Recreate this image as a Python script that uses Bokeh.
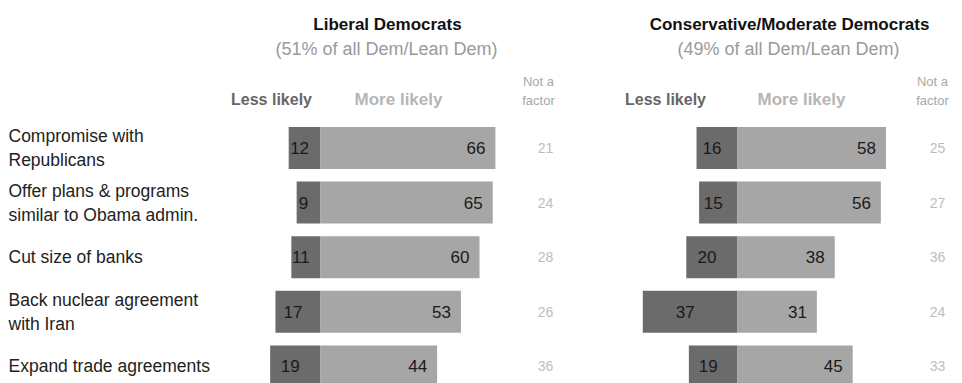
from bokeh.plotting import figure
from bokeh.models import Range1d, ColumnDataSource
from bokeh.embed import file_html
from bokeh.resources import INLINE
from bokeh.core.properties import value

# ---- data ----
items = [
    "Compromise with\nRepublicans",
    "Offer plans & programs\nsimilar to Obama admin.",
    "Cut size of banks",
    "Back nuclear agreement\nwith Iran",
    "Expand trade agreements",
]
lib_less = [12, 9, 11, 17, 19]
lib_more = [66, 65, 60, 53, 44]
lib_not = [21, 24, 28, 26, 36]
con_less = [16, 15, 20, 37, 19]
con_more = [58, 56, 38, 31, 45]
con_not = [25, 27, 36, 24, 33]

panel_titles = ["Liberal Democrats", "Conservative/Moderate Democrats"]
panel_subtitles = ["(51% of all Dem/Lean Dem)", "(49% of all Dem/Lean Dem)"]
col_less = "Less likely"
col_more = "More likely"
col_not = ["Not a", "factor"]

# ---- layout constants (page pixels) ----
W, H, ORIGIN = 962, 383, 0
LIB_ZERO, LIB_SCALE = 320, 2.65
CON_ZERO, CON_SCALE = 737, 2.56
ROW0, ROW_STEP = 147.5, 54.6
FONT = "Liberation Sans"

DARK = "#6b6b6b"
LIGHT = "#a6a6a6"


def lx(px):
    return (px - LIB_ZERO) / LIB_SCALE


def cx(px):
    return (px - CON_ZERO) / CON_SCALE


def py(py_):
    return (py_ - ROW0) / ROW_STEP


p = figure(
    width=W, height=H, output_backend="svg", toolbar_location=None,
    x_axis_location=None, y_axis_location=None,
    x_range=Range1d(lx(ORIGIN), lx(ORIGIN + W)),
    y_range=Range1d(py(ORIGIN + H), py(ORIGIN)),
    min_border=0, outline_line_color=None,
)
p.extra_x_ranges = {"con": Range1d(cx(ORIGIN), cx(ORIGIN + W))}
p.xgrid.visible = False
p.ygrid.visible = False
p.background_fill_color = None
p.border_fill_color = None

rows = list(range(len(items)))
BAR_H = 42 / ROW_STEP

lib = ColumnDataSource(dict(
    y=rows,
    less_left=[-v for v in lib_less],
    less_mid=[-v / 2 for v in lib_less],
    more=lib_more,
    less_txt=[str(v) for v in lib_less],
    more_txt=[str(v) for v in lib_more],
    not_txt=[str(v) for v in lib_not],
))
con = ColumnDataSource(dict(
    y=rows,
    less_left=[-v for v in con_less],
    less_mid=[-v / 2 for v in con_less],
    more=con_more,
    less_txt=[str(v) for v in con_less],
    more_txt=[str(v) for v in con_more],
    not_txt=[str(v) for v in con_not],
))

for src, rng, notx in ((lib, "default", lx(545)), (con, "con", cx(937))):
    p.hbar(y="y", left="less_left", right=0, height=BAR_H, source=src,
           fill_color=DARK, line_color=None, x_range_name=rng)
    p.hbar(y="y", left=0, right="more", height=BAR_H, source=src,
           fill_color=LIGHT, line_color=None, x_range_name=rng)
    p.text(x="less_mid", y="y", text="less_txt", source=src, x_range_name=rng,
           x_offset=-5, text_align="center", text_baseline="middle",
           text_font=value(FONT), text_font_size="17px", text_color="#1a1a1a")
    p.text(x="more", y="y", text="more_txt", source=src, x_range_name=rng,
           x_offset=-10, text_align="right", text_baseline="middle",
           text_font=value(FONT), text_font_size="17px", text_color="#1a1a1a")
    p.text(x=notx, y="y", text="not_txt", source=src, x_range_name=rng,
           text_align="center", text_baseline="middle",
           text_font=value(FONT), text_font_size="14px", text_color="#bdbdbd")

# row labels
p.text(x=[lx(8)] * len(items), y=rows, text=items,
       text_align="left", text_baseline="middle", text_line_height=1.2,
       text_font=value(FONT), text_font_size="17.5px", text_color="#222222")

# panel titles / subtitles
p.text(x=[lx(387), lx(789)], y=[py(24)] * 2, text=panel_titles,
       text_align="center", text_baseline="middle",
       text_font=value(FONT), text_font_size="17px", text_font_style="bold",
       text_color="#111111")
p.text(x=[lx(386), lx(788)], y=[py(48)] * 2, text=panel_subtitles,
       text_align="center", text_baseline="middle",
       text_font=value(FONT), text_font_size="18px", text_color="#9a9a9a")

# column headers
p.text(x=[lx(271), lx(665)], y=[py(99)] * 2, text=[col_less] * 2,
       text_align="center", text_baseline="middle",
       text_font=value(FONT), text_font_size="16px", text_font_style="bold",
       text_color="#666666")
p.text(x=[lx(398), lx(801)], y=[py(99)] * 2, text=[col_more] * 2,
       text_align="center", text_baseline="middle",
       text_font=value(FONT), text_font_size="17px", text_font_style="bold",
       text_color="#b5b5b5")
p.text(x=[lx(538), lx(932)], y=[py(81)] * 2, text=[col_not[0]] * 2,
       text_align="center", text_baseline="middle",
       text_font=value(FONT), text_font_size="13px", text_color="#a8a8a8")
p.text(x=[lx(538), lx(932)], y=[py(100)] * 2, text=[col_not[1]] * 2,
       text_align="center", text_baseline="middle",
       text_font=value(FONT), text_font_size="13px", text_color="#a8a8a8")

open("out.html", "w").write(file_html(p, INLINE))
